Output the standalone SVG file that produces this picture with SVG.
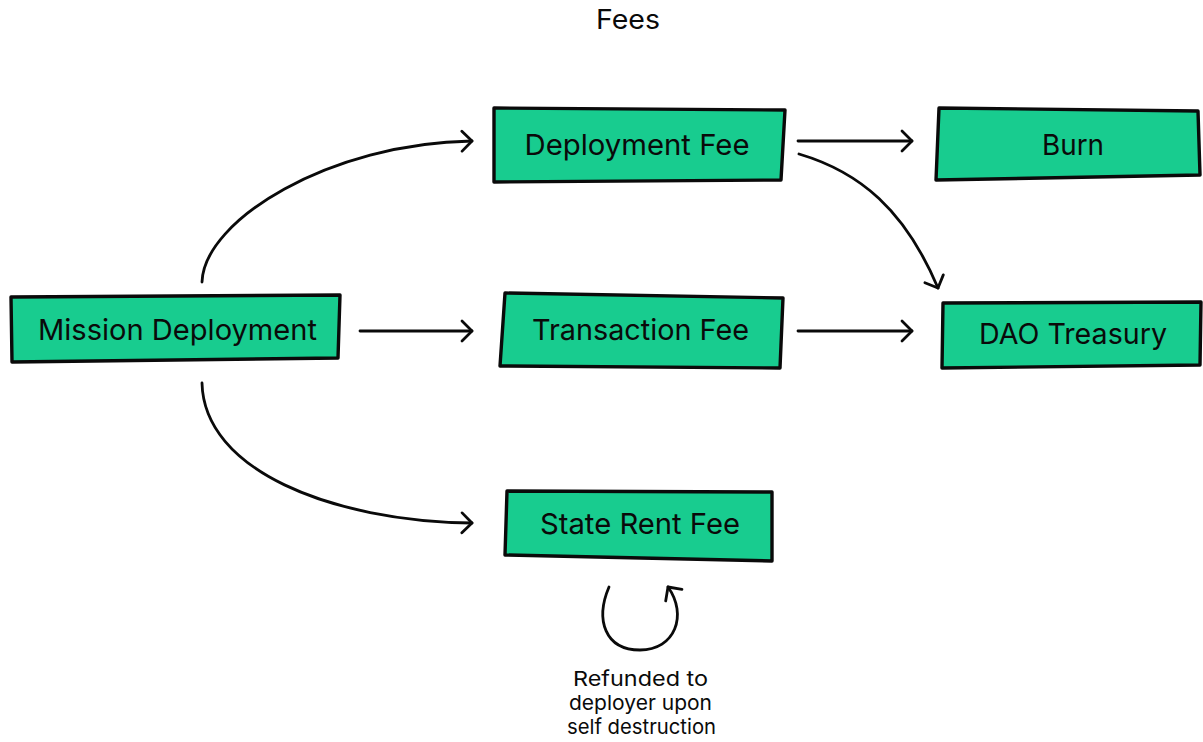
<svg xmlns="http://www.w3.org/2000/svg" width="1203" height="742" viewBox="0 0 1203 742">
  <style>
    .box { fill: #18cc8f; stroke: #0a0a0a; stroke-width: 3.4; stroke-linejoin: round; }
    .label { font-family: Inter, "Liberation Sans", sans-serif; font-size: 29px; fill: #0a0a0a; text-anchor: middle; }
    .title { font-family: Inter, "Liberation Sans", sans-serif; font-size: 27px; fill: #0a0a0a; text-anchor: middle; }
    .note { font-family: Inter, "Liberation Sans", sans-serif; font-size: 20.5px; fill: #0a0a0a; text-anchor: middle; }
    .edge { fill: none; stroke: #0a0a0a; stroke-width: 2.8; stroke-linecap: round; marker-end: url(#chevron); }
  </style>
  <defs>
    <marker id="chevron" viewBox="-12 -12 14 24" markerWidth="14" markerHeight="24" refX="0" refY="0" orient="auto" markerUnits="userSpaceOnUse">
      <path d="M-10,-10 L0,0 L-10,10" fill="none" stroke="#0a0a0a" stroke-width="2.8" stroke-linecap="round" stroke-linejoin="round"/>
    </marker>
  </defs>
  <rect width="1203" height="742" fill="#ffffff"/>

  <text class="title" x="628" y="29" textLength="64" lengthAdjust="spacingAndGlyphs">Fees</text>

  <g id="connectors">
    <path class="edge" d="M202,282 C204,220 330,143 472,141"/>
    <path class="edge" d="M360,331 L472,331"/>
    <path class="edge" d="M202,383 C204,470 330,521 472,523"/>
    <path class="edge" d="M798,141 L912,141"/>
    <path class="edge" d="M799,154 C860,172 905,210 938,288"/>
    <path class="edge" d="M798,331 L912,331"/>
    <path class="edge" d="M609,587 C595,620 605,650 640,650 C675,650 688,615 668,587"/>
  </g>

  <g id="mission-deployment">
    <path class="box" d="M11,297 L340,295 L338,358 L12,362 Z"/>
    <text class="label" x="177.5" y="340" textLength="279" lengthAdjust="spacingAndGlyphs">Mission Deployment</text>
  </g>

  <g id="deployment-fee">
    <path class="box" d="M494,108 L785,110 L781,180 L494,182 Z"/>
    <text class="label" x="637" y="155" textLength="225" lengthAdjust="spacingAndGlyphs">Deployment Fee</text>
  </g>

  <g id="transaction-fee">
    <path class="box" d="M505,293 L783,298 L780,368 L500,366 Z"/>
    <text class="label" x="640.5" y="340" textLength="217" lengthAdjust="spacingAndGlyphs">Transaction Fee</text>
  </g>

  <g id="state-rent-fee">
    <path class="box" d="M507,491 L772,492 L772,561 L505,555 Z"/>
    <text class="label" x="640" y="534" textLength="200" lengthAdjust="spacingAndGlyphs">State Rent Fee</text>
  </g>

  <g id="burn">
    <path class="box" d="M939,108 L1198,111 L1200,175 L936,180 Z"/>
    <text class="label" x="1073" y="155" textLength="62" lengthAdjust="spacingAndGlyphs">Burn</text>
  </g>

  <g id="dao-treasury">
    <path class="box" d="M943,303 L1201,302 L1200,365 L942,368 Z"/>
    <text class="label" x="1073" y="344" textLength="188" lengthAdjust="spacingAndGlyphs">DAO Treasury</text>
  </g>

  <g id="refund-note">
    <text class="note" x="640.5" y="686" textLength="135" lengthAdjust="spacingAndGlyphs">Refunded to</text>
    <text class="note" x="640.5" y="710" textLength="143" lengthAdjust="spacingAndGlyphs">deployer upon</text>
    <text class="note" x="641.5" y="734" textLength="149" lengthAdjust="spacingAndGlyphs">self destruction</text>
  </g>
</svg>
